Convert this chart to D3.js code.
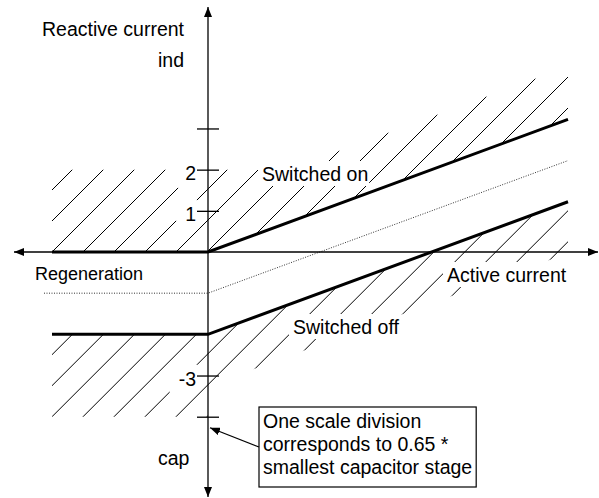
<!DOCTYPE html>
<html>
<head>
<meta charset="utf-8">
<script src="https://cdn.jsdelivr.net/npm/d3@7"></script>
<style>
  body { margin: 0; background: #fff; }
  text { font-family: 'Liberation Sans', Arial, sans-serif; font-size: 19.5px; fill: #000; }
</style>
</head>
<body>
<script>
var width = 599, height = 498;

// x = active current, y = reactive current, 1 unit = one scale division
var switchOnX = [-3.9, 0, 9];
var switchOnY = [0, 0, 3.22];
var switchOffX = [-3.9, 0, 9];
var switchOffY = [-2, -2, 1.22];
var middleX = [-4.1, 0, 9];
var middleY = [-1, -1, 2.22];

// hatched areas outside the band
var hatchOnX = [-3.9, 0, 9, 9, 2, -3.9];
var hatchOnY = [0, 0, 3.22, 4.5, 2, 2];
var hatchOffX = [-3.9, 0, 9, 9, 0, 0, -3.9];
var hatchOffY = [-2, -2, 1.22, -0.03, -3.25, -4, -4];

var tickValues = [3, 2, 1, -3, -4];
var tickLabels = ['', '2', '1', '-3', ''];

var noteLines = ['One scale division', 'corresponds to 0.65 *', 'smallest capacitor stage'];

var x = d3.scaleLinear().domain([-4.85, 9.75]).range([14, 598]);
var y = d3.scaleLinear().domain([-5.95, 5.95]).range([497, 7]);

var svg = d3.select('body').append('svg')
  .attr('width', width)
  .attr('height', height);

var defs = svg.append('defs');

defs.append('marker')
  .attr('id', 'arrow')
  .attr('viewBox', '0 0 10 8')
  .attr('refX', 10)
  .attr('refY', 4)
  .attr('markerWidth', 10)
  .attr('markerHeight', 8)
  .attr('markerUnits', 'userSpaceOnUse')
  .attr('orient', 'auto-start-reverse')
  .append('path')
  .attr('d', 'M0,0L10,4L0,8Z')
  .attr('fill', '#000');

var toPoints = function(xs, ys) {
  return xs.map(function(v, i) { return [x(v), y(ys[i])]; });
};

var hatchG = svg.append('g');
var lineG = svg.append('g');
var axisG = svg.append('g');
var textG = svg.append('g');

// characteristic lines
var line = d3.line();
lineG.append('path')
  .attr('d', line(toPoints(middleX, middleY)))
  .attr('fill', 'none')
  .attr('stroke', '#333')
  .attr('stroke-width', 1)
  .attr('stroke-dasharray', '1,1.5');

[[switchOnX, switchOnY], [switchOffX, switchOffY]].forEach(function(s) {
  lineG.append('path')
    .attr('d', line(toPoints(s[0], s[1])))
    .attr('fill', 'none')
    .attr('stroke', '#000')
    .attr('stroke-width', 3);
});

// axes with arrows
axisG.append('line')
  .attr('x1', x.range()[0]).attr('x2', x.range()[1])
  .attr('y1', y(0)).attr('y2', y(0))
  .attr('stroke', '#000').attr('stroke-width', 1.3)
  .attr('marker-start', 'url(#arrow)')
  .attr('marker-end', 'url(#arrow)');

axisG.append('line')
  .attr('x1', x(0)).attr('x2', x(0))
  .attr('y1', y.range()[0]).attr('y2', y.range()[1])
  .attr('stroke', '#000').attr('stroke-width', 1.3)
  .attr('marker-start', 'url(#arrow)')
  .attr('marker-end', 'url(#arrow)');

var yAxis = axisG.append('g')
  .attr('transform', 'translate(' + x(0) + ',0)')
  .call(d3.axisLeft(y)
    .tickValues(tickValues)
    .tickSize(11)
    .tickSizeOuter(0)
    .tickPadding(1)
    .tickFormat(function(d, i) { return tickLabels[i]; }));
yAxis.select('.domain').remove();
yAxis.selectAll('.tick line')
  .attr('x1', 11)
  .attr('stroke', '#000')
  .attr('stroke-width', 1.3);
yAxis.selectAll('.tick text')
  .attr('dy', '0.5em')
  .attr('font-size', null)
  .attr('font-family', null)
  .classed('cuts', true)
  .classed('tick-label', true);

var addLabel = function(txt, px, py, anchor, cuts) {
  return textG.append('text')
    .attr('x', px)
    .attr('y', py)
    .attr('text-anchor', anchor)
    .classed('cuts', !!cuts)
    .text(txt);
};

addLabel('Reactive current', 184, 36, 'end');
addLabel('ind', 184, 67, 'end');
addLabel('cap', 158, 465, 'start');
addLabel('Regeneration', 35, 280, 'start').style('font-size', '18px');
addLabel('Switched on', 262, 181, 'start', true);
addLabel('Switched off', 293, 334, 'start', true);
addLabel('Active current', 447, 282, 'start', true);

// note box with pointer to the scale division
var noteG = svg.append('g');
var note = noteG.append('text');
noteLines.forEach(function(t, i) {
  note.append('tspan').attr('x', 263).attr('y', 428 + i * 23).text(t);
});
var nb = note.node().getBBox();
noteG.insert('rect', 'text')
  .attr('x', 259)
  .attr('y', 407)
  .attr('width', nb.x + nb.width + 4 - 259)
  .attr('height', 80)
  .attr('fill', '#fff')
  .attr('stroke', '#000')
  .attr('stroke-width', 1.2);
noteG.append('line')
  .attr('x1', 259).attr('y1', 447)
  .attr('x2', x(0) + 2).attr('y2', y(-4) + 11)
  .attr('stroke', '#000').attr('stroke-width', 1.2)
  .attr('marker-end', 'url(#arrow)');

// labels sitting in hatched areas punch holes in the hatching
var svgBox = svg.node().getBoundingClientRect();
var mask = defs.append('mask')
  .attr('id', 'label-holes')
  .attr('maskUnits', 'userSpaceOnUse')
  .attr('x', 0).attr('y', 0)
  .attr('width', width).attr('height', height);
mask.append('rect').attr('width', width).attr('height', height).attr('fill', '#fff');
svg.selectAll('text.cuts').each(function() {
  var txt = d3.select(this).text();
  if(txt === '') { return; }
  var b = this.getBoundingClientRect();
  var tick = d3.select(this).classed('tick-label');
  var pad = tick ? {l: 9, r: 2, t: 3, b: 4} : {l: 4, r: 1, t: 2, b: 1};
  mask.append('rect')
    .attr('x', b.left - svgBox.left - pad.l)
    .attr('y', b.top - svgBox.top - pad.t)
    .attr('width', b.width + pad.l + pad.r)
    .attr('height', b.height + pad.t + pad.b)
    .attr('fill', '#000');
});

var drawHatch = function(id, xs, ys, anchor) {
  var pts = toPoints(xs, ys);
  defs.append('clipPath').attr('id', id)
    .append('path').attr('d', 'M' + pts.join('L') + 'Z');
  var spacing = 31;
  var c0 = x(anchor[0]) + y(anchor[1]);
  var cs = d3.range(-30, 40).map(function(k) { return c0 + k * spacing; });
  hatchG.append('g')
    .attr('clip-path', 'url(#' + id + ')')
    .selectAll('line')
    .data(cs)
    .join('line')
    .attr('x1', function(c) { return c - height; })
    .attr('y1', height)
    .attr('x2', function(c) { return c; })
    .attr('y2', 0)
    .attr('stroke', '#000')
    .attr('stroke-width', 1);
};

hatchG.attr('mask', 'url(#label-holes)');
drawHatch('clip-on', hatchOnX, hatchOnY, [hatchOnX[0], hatchOnY[0]]);
drawHatch('clip-off', hatchOffX, hatchOffY, [hatchOffX[6], hatchOffY[6]]);
</script>
</body>
</html>
